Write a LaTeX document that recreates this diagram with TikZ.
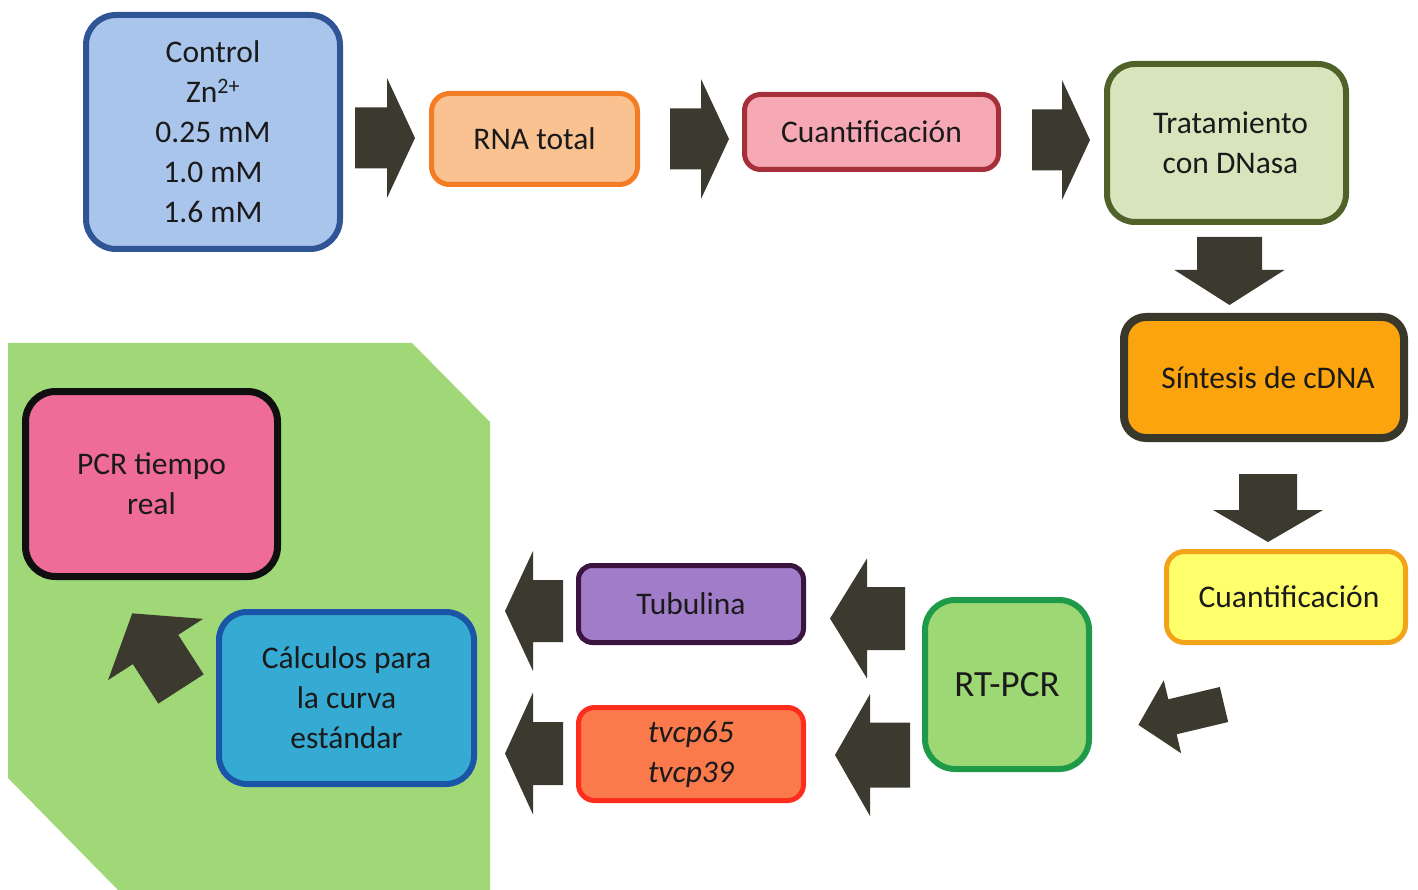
\documentclass[tikz,border=0pt]{standalone}
\usepackage{fontspec}
\setmainfont{Carlito}
\definecolor{arrowc}{HTML}{3C3A2E}
\definecolor{bggreen}{HTML}{A0D878}
\definecolor{txt}{HTML}{1A1A1A}
\definecolor{ctrlF}{HTML}{A9C5EB}\definecolor{ctrlD}{HTML}{2F5596}
\definecolor{rnaF}{HTML}{FAC191}\definecolor{rnaD}{HTML}{F37D24}
\definecolor{cuaF}{HTML}{F6A8B5}\definecolor{cuaD}{HTML}{A6303A}
\definecolor{traF}{HTML}{D8E4BC}\definecolor{traD}{HTML}{4E6229}
\definecolor{sinF}{HTML}{FCA40E}\definecolor{sinD}{HTML}{3A372B}
\definecolor{cubF}{HTML}{FFFF6B}\definecolor{cubD}{HTML}{F2A31A}
\definecolor{rtF}{HTML}{9DD874}\definecolor{rtD}{HTML}{1E9A48}
\definecolor{tubF}{HTML}{A17DC9}\definecolor{tubD}{HTML}{3C1440}
\definecolor{tvF}{HTML}{FA7A4C}\definecolor{tvD}{HTML}{FF2D1D}
\definecolor{pcrF}{HTML}{EF6B98}\definecolor{pcrD}{HTML}{0F0F0F}
\definecolor{calF}{HTML}{35AAD2}\definecolor{calD}{HTML}{1B55A7}
% block arrow: tail centre x, y, angle, length, shaft width, head width, head length
\newcommand\barrow[7]{%
  \begin{scope}[shift={(#1,#2)},rotate=#3]
    \fill[arrowc] (0,{-#5/2}) -- ({#4-#7},{-#5/2}) -- ({#4-#7},{-#6/2}) -- (#4,0)
      -- ({#4-#7},{#6/2}) -- ({#4-#7},{#5/2}) -- (0,{#5/2}) -- cycle;
  \end{scope}}
\tikzset{
  box/.style={rectangle, align=center, text=txt, inner sep=0pt,
    font=\fontsize{31.5}{40}\selectfont},
}
\begin{document}
\begin{tikzpicture}[x=1pt,y=-1pt]
\useasboundingbox (0,0) rectangle (1418,890);
% green background
\fill[bggreen] (8,343) -- (412,343) -- (490,422) -- (490,890) -- (118,890) -- (8,778) -- cycle;

% boxes
\node[box, draw=ctrlD, fill=ctrlF, line width=6pt, rounded corners=30pt,
  minimum width=254pt, minimum height=234pt] (ctrl) at (213,132)
  {Control\\Zn\textsuperscript{2+}\\0.25 mM\\1.0 mM\\1.6 mM};
\node[box, draw=rnaD, fill=rnaF, line width=5pt, rounded corners=18pt,
  minimum width=206pt, minimum height=91pt] (rna) at (534.5,139) {RNA total};
\node[box, draw=cuaD, fill=cuaF, line width=5pt, rounded corners=16pt,
  minimum width=254pt, minimum height=75pt] (cua1) at (871.5,132) {Cuantificación};
\node[box, draw=traD, fill=traF, line width=6pt, rounded corners=28pt,
  minimum width=239pt, minimum height=158pt] (tra) at (1226.5,143)
  {\raisebox{-4pt}{\hspace*{8pt}Tratamiento}\\\raisebox{-4pt}{\hspace*{8pt}con DNasa}};
\node[box, draw=sinD, fill=sinF, line width=8pt, rounded corners=22pt,
  minimum width=280pt, minimum height=121pt] (sin) at (1264,377.5) {\hspace*{8pt}\raisebox{-4pt}{Síntesis de cDNA}};
\node[box, draw=cubD, fill=cubF, line width=5pt, rounded corners=18pt,
  minimum width=239pt, minimum height=91pt] (cua2) at (1286,597) {\hspace*{6pt}Cuantificación};
\node[box, draw=rtD, fill=rtF, line width=6pt, rounded corners=30pt,
  minimum width=164pt, minimum height=169pt, font=\fontsize{37}{40}\selectfont] (rt) at (1007,684.5) {RT-PCR};
\node[box, draw=tubD, fill=tubF, line width=5pt, rounded corners=14pt,
  minimum width=225pt, minimum height=77pt] (tub) at (691,604) {Tubulina};
\node[box, draw=tvD, fill=tvF, line width=5pt, rounded corners=16pt,
  minimum width=225pt, minimum height=93pt] (tv) at (691,754) {\itshape tvcp65\\\itshape tvcp39};
\node[box, draw=pcrD, fill=pcrF, line width=7pt, rounded corners=30pt,
  minimum width=252pt, minimum height=185pt] (pcr) at (151.5,484) {PCR tiempo\\real};
\node[box, draw=calD, fill=calF, line width=6pt, rounded corners=28pt,
  minimum width=255pt, minimum height=172pt] (cal) at (346.5,698) {Cálculos para\\la curva\\estándar};

% block arrows
\barrow{355}{138}{0}{60}{61}{120}{28}
\barrow{670}{139}{0}{59}{61}{120}{28}
\barrow{1032}{140}{0}{58}{61}{120}{28}
\barrow{1229.5}{237}{-90}{68}{65}{110}{35}
\barrow{1268}{474}{-90}{68}{58}{110}{32}
\barrow{1224}{704.5}{193.4}{88}{36}{75}{35}
\barrow{905}{618.5}{180}{75}{63}{120}{37}
\barrow{910}{755}{180}{75}{65}{122}{35}
\barrow{563}{611}{180}{58}{62}{120}{28}
\barrow{563}{753.5}{180}{58}{63}{122}{28}
\barrow{181}{689}{122.8}{90}{54}{113}{43}
\end{tikzpicture}
\end{document}
